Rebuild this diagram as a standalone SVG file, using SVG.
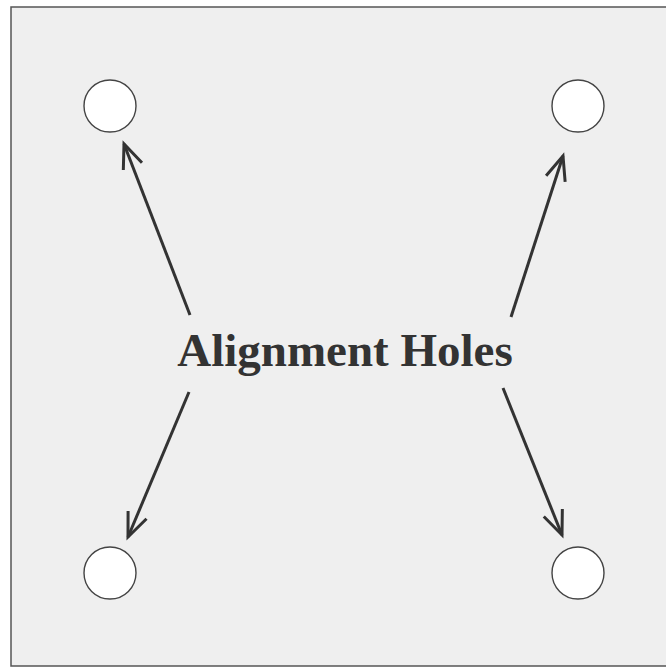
<svg xmlns="http://www.w3.org/2000/svg" width="666" height="669" viewBox="0 0 666 669">
  <style>
    .hole { fill: #ffffff; stroke: #444444; stroke-width: 1.4; }
    .conn { stroke: #333333; stroke-width: 3; fill: none; marker-end: url(#vhead); }
    .label { font-family: "Liberation Serif", "Times New Roman", serif; font-weight: bold; font-size: 47px; fill: #333333; }
  </style>
  <defs>
    <marker id="vhead" markerUnits="userSpaceOnUse" viewBox="-28 -14 32 28" refX="0" refY="0" markerWidth="32" markerHeight="28" orient="auto">
      <path d="M-24,-10 L0,0 L-24,10" fill="none" stroke="#333333" stroke-width="3" stroke-linejoin="miter"/>
    </marker>
  </defs>
  <rect x="0" y="0" width="666" height="669" fill="#ffffff"/>
  <g id="panel">
    <rect x="11" y="7" width="670" height="659" fill="#efefef" stroke="#555555" stroke-width="1.5"/>
  </g>
  <g id="hole-tl"><circle class="hole" cx="110" cy="106" r="26"/></g>
  <g id="hole-tr"><circle class="hole" cx="578" cy="106" r="26"/></g>
  <g id="hole-bl"><circle class="hole" cx="110" cy="573" r="26"/></g>
  <g id="hole-br"><circle class="hole" cx="578" cy="573" r="26"/></g>
  <g id="label">
    <text class="label" x="345" y="366" text-anchor="middle">Alignment Holes</text>
  </g>
  <g id="connectors">
    <line class="conn" x1="190" y1="315" x2="124" y2="144"/>
    <line class="conn" x1="511" y1="317" x2="563" y2="156"/>
    <line class="conn" x1="189" y1="392" x2="128" y2="537"/>
    <line class="conn" x1="503" y1="388" x2="562" y2="535"/>
  </g>
</svg>
